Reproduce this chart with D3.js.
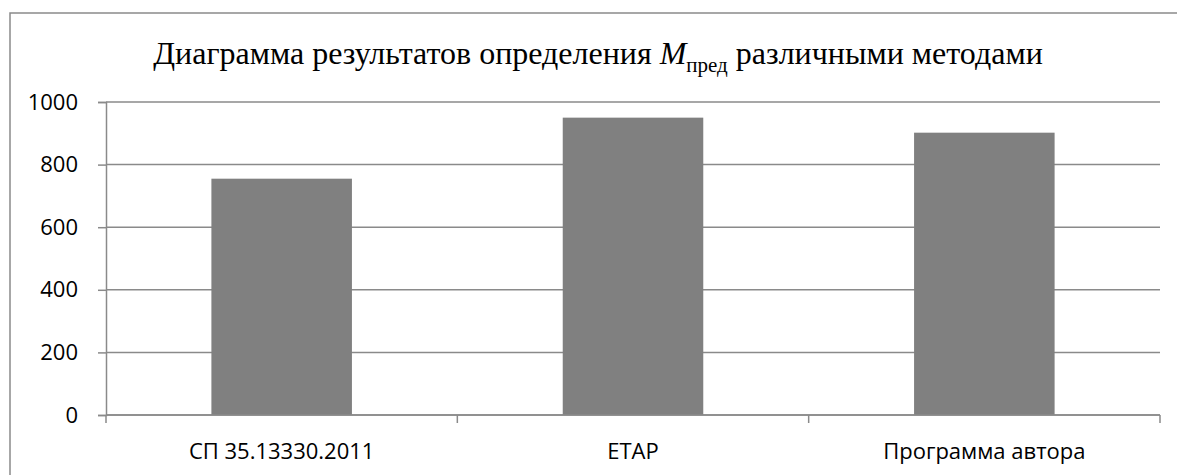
<!DOCTYPE html>
<html>
<head>
<meta charset="utf-8">
<script src="https://cdn.jsdelivr.net/npm/d3@7"></script>
<style>
  body { margin: 0; background: #fff; }
  .tick-label { font-family: "Open Sans", sans-serif; font-size: 22px; fill: #000; }
</style>
</head>
<body>
<div class="chart"></div>
<script>
let FRAME_WIDTH = 1177;
let FRAME_HEIGHT = 475;
let MARGINS = {left: 106, right: 17, top: 102, bottom: 60};

// data
const categories = ["СП 35.13330.2011", "ETAP", "Программа автора"];
const values = [755, 950, 902];
const yTicks = [0, 200, 400, 600, 800, 1000];

let FRAME = d3.select(".chart")
              .append("svg")
              .attr("width", FRAME_WIDTH)
              .attr("height", FRAME_HEIGHT);

// outer chart border (only left and top are visible in the crop)
FRAME.append("path")
     .attr("d", "M10," + FRAME_HEIGHT + " L10,13 L" + FRAME_WIDTH + ",13")
     .attr("fill", "none")
     .attr("stroke", "#8a8a8a")
     .attr("stroke-width", 1.5);

const X_SCALE = d3.scaleBand()
                  .domain(categories)
                  .range([MARGINS.left, FRAME_WIDTH - MARGINS.right])
                  .paddingInner(0.6)
                  .paddingOuter(0.3);

const Y_SCALE = d3.scaleLinear()
                  .domain([0, 1000])
                  .range([FRAME_HEIGHT - MARGINS.bottom, MARGINS.top]);

// horizontal gridlines
FRAME.append("g")
     .selectAll("line")
     .data(yTicks)
     .enter()
     .append("line")
       .attr("x1", MARGINS.left)
       .attr("x2", FRAME_WIDTH - MARGINS.right)
       .attr("y1", (d) => Y_SCALE(d))
       .attr("y2", (d) => Y_SCALE(d))
       .attr("stroke", "#8a8a8a")
       .attr("stroke-width", 1.5);

// bars
FRAME.append("g")
     .selectAll("rect")
     .data(values)
     .enter()
     .append("rect")
       .attr("x", (d, i) => X_SCALE(categories[i]))
       .attr("y", (d) => Y_SCALE(d))
       .attr("width", X_SCALE.bandwidth())
       .attr("height", (d) => Y_SCALE(0) - Y_SCALE(d))
       .attr("fill", "#808080");

// y axis
let yAxis = FRAME.append("g")
     .attr("transform", "translate(" + MARGINS.left + ",0)")
     .call(d3.axisLeft(Y_SCALE).tickValues(yTicks).tickFormat(d3.format("d")).tickSize(8).tickPadding(20));
yAxis.attr("font-size", null).attr("font-family", null);
yAxis.select(".domain").attr("stroke", "#8a8a8a").attr("stroke-width", 1.5);
yAxis.selectAll(".tick line").attr("stroke", "#8a8a8a").attr("stroke-width", 1.5);
yAxis.selectAll(".tick text").attr("class", "tick-label");

// x axis: ticks sit between the categories
let xAxis = FRAME.append("g")
     .attr("transform", "translate(0," + Y_SCALE(0) + ")");
xAxis.append("line")
     .attr("x1", MARGINS.left)
     .attr("x2", FRAME_WIDTH - MARGINS.right)
     .attr("stroke", "#8a8a8a")
     .attr("stroke-width", 1.5);
let bounds = d3.range(categories.length + 1).map((i) => MARGINS.left + i * (FRAME_WIDTH - MARGINS.right - MARGINS.left) / categories.length);
xAxis.selectAll(".xtick")
     .data(bounds)
     .enter()
     .append("line")
       .attr("x1", (d) => d)
       .attr("x2", (d) => d)
       .attr("y1", 0)
       .attr("y2", 8)
       .attr("stroke", "#8a8a8a")
       .attr("stroke-width", 1.5);
xAxis.selectAll(".xlabel")
     .data(categories)
     .enter()
     .append("text")
       .attr("class", "tick-label")
       .attr("x", (d) => X_SCALE(d) + X_SCALE.bandwidth() / 2)
       .attr("y", 44)
       .attr("text-anchor", "middle")
       .text((d) => d);

// title with italic M and subscript
let title = FRAME.append("text")
     .attr("x", 598)
     .attr("y", 64)
     .attr("text-anchor", "middle")
     .style("font-family", "'Liberation Serif', 'Times New Roman', serif")
     .style("font-size", "32px")
     .style("fill", "#000");
title.append("tspan").text("Диаграмма результатов определения ");
title.append("tspan").style("font-style", "italic").text("M");
title.append("tspan").attr("dy", 8).style("font-size", "21px").text("пред");
title.append("tspan").attr("dy", -8).text(" различными методами");
</script>
</body>
</html>
